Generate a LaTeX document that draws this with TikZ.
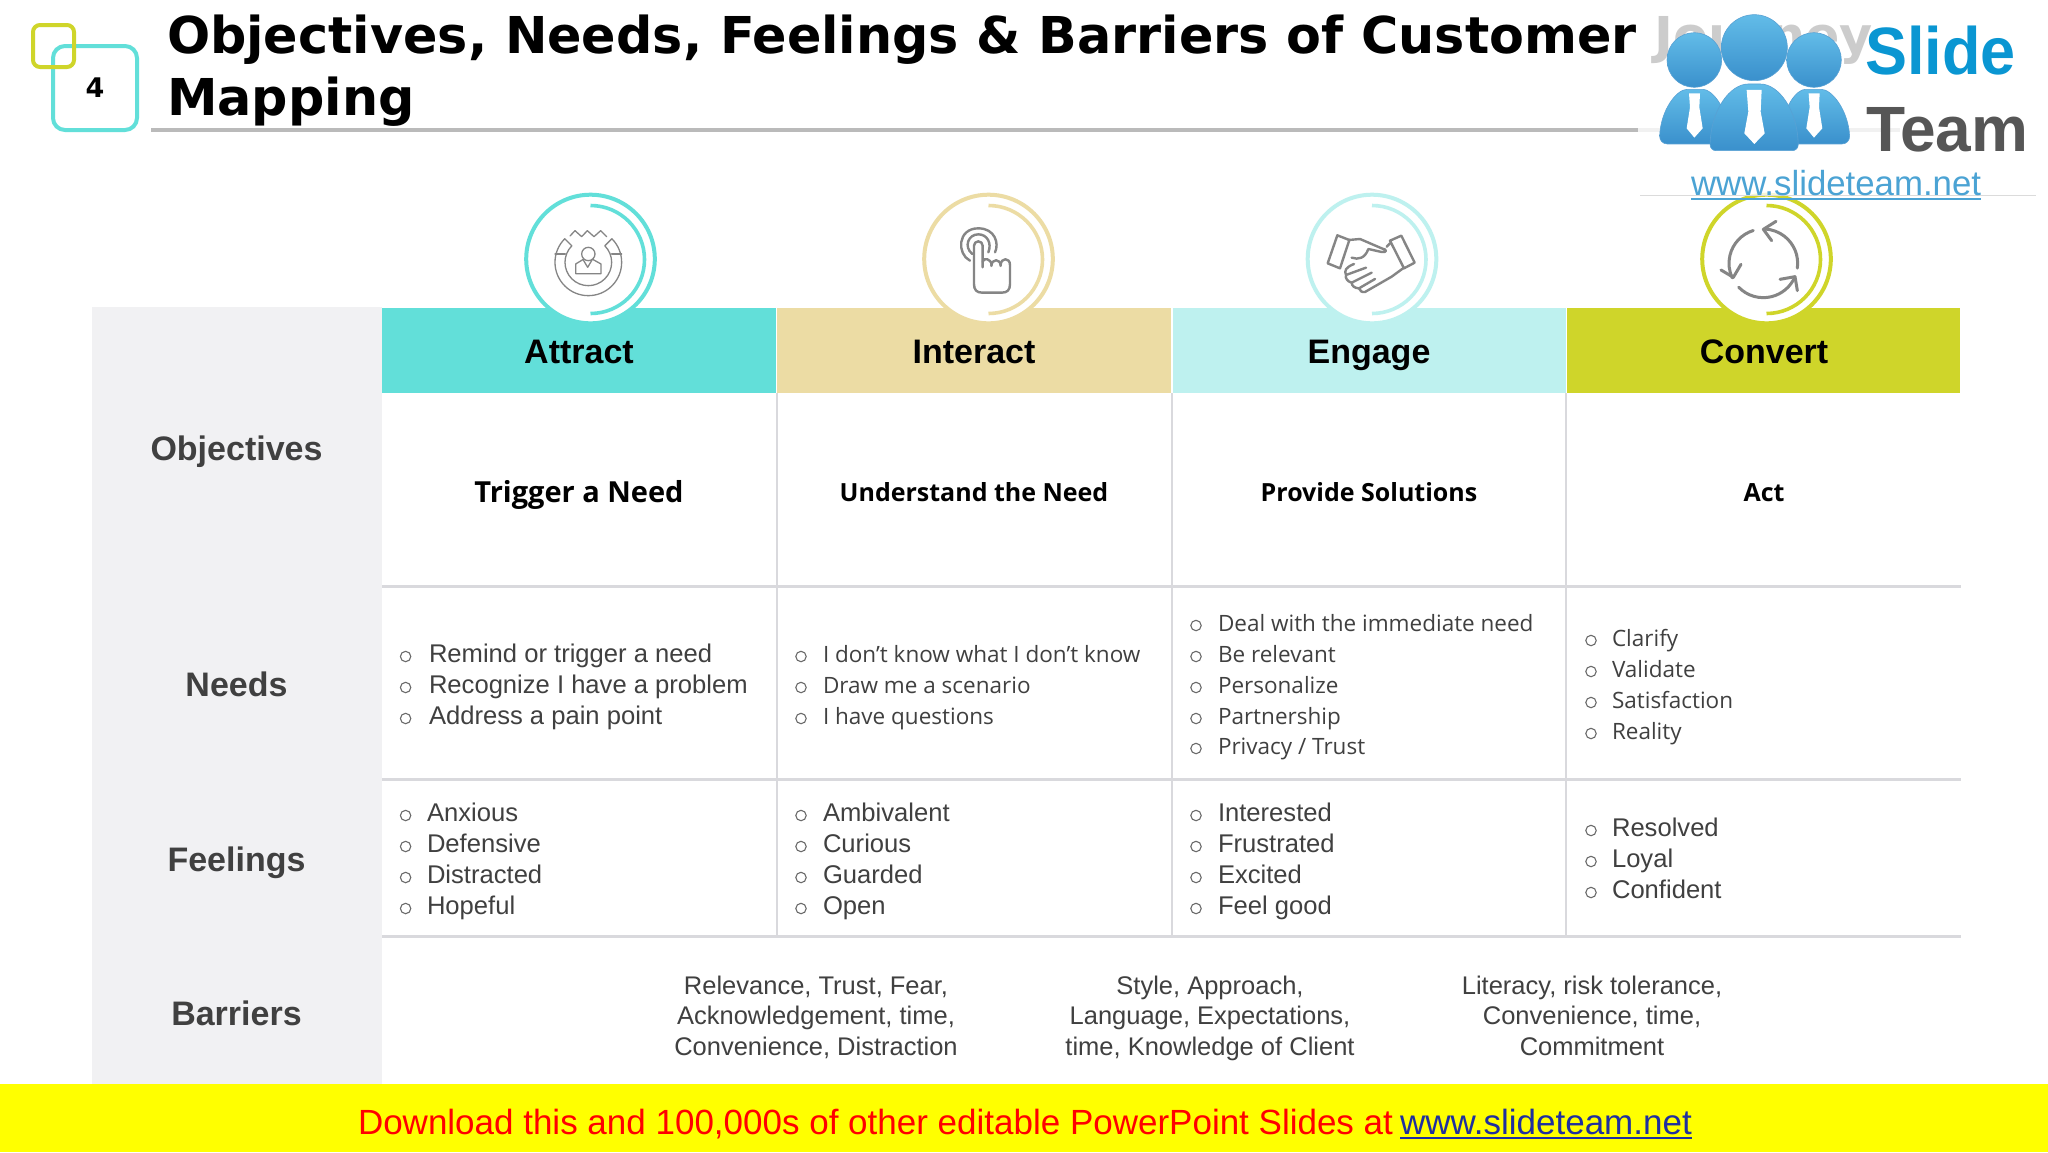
\documentclass[tikz,border=0pt]{standalone}
\usepackage{fontspec}
\setmainfont{Liberation Sans}
\newfontfamily\dejavu{DejaVu Sans}
\newfontfamily\opensans{Open Sans}
\definecolor{cAttract}{HTML}{62DFD9}
\definecolor{cInteract}{HTML}{ECDCA4}
\definecolor{cEngage}{HTML}{BEF1EF}
\definecolor{cConvert}{HTML}{CFD52A}
\definecolor{cGrey}{HTML}{F1F1F3}
\definecolor{cLine}{HTML}{D9D9DD}
\definecolor{cText}{HTML}{404040}
\definecolor{cIcon}{HTML}{858585}
\definecolor{cLink}{HTML}{1F2F9F}
\definecolor{cLogoTop}{HTML}{62BCE8}
\definecolor{cLogoBot}{HTML}{3A90CC}
\definecolor{cBar}{RGB}{255,255,0}
\definecolor{cRed}{RGB}{255,0,0}
\definecolor{cSlide}{HTML}{0A96D2}
\definecolor{cTeam}{HTML}{565656}
\definecolor{cUrl}{HTML}{4BA3D4}
\newcommand{\fs}[1]{\fontsize{#1}{#1}\selectfont}
\tikzset{
  txt/.style={inner sep=0pt,outer sep=0pt,anchor=base west},
  ctr/.style={inner sep=0pt,outer sep=0pt,anchor=base},
  head/.style={ctr,font=\fs{34}\bfseries,text=black},
  rowlab/.style={ctr,font=\fs{34}\bfseries,text=cText},
  subA/.style={ctr,font=\opensans\fs{25}\bfseries,text=black},
  itemA/.style={txt,font=\fs{25.6},text=cText},
  itemB/.style={txt,font=\opensans\fs{22.5},text=cText},
  barr/.style={ctr,font=\fs{25.5},text=cText},
  gridline/.style={draw=cLine,line width=2.4pt},
  ic/.style={draw=cIcon,line width=1.3pt,line join=round,line cap=round},
  icb/.style={draw=cIcon,line width=2.4pt,line join=round,line cap=round},
  tiebox/.style={fill=white,draw=none},
  logoshade/.style={top color=cLogoTop,bottom color=cLogoBot,draw=cLogoBot!85!white,line width=0.6pt},
}
% bullet: name, bullet x, text x, baseline y, style, text
\newcommand{\bul}[6]{%
  \draw[cIcon!80!black,line width=1.1pt] (#2,#4-5.5) circle[radius=5.2];
  \node[#5] (#1) at (#3,#4) {#6};}
% badge: centre x, colour
\newcommand{\badge}[2]{%
  \draw[#2,line width=4pt,fill=white] (#1,259) circle[radius=64.3];
  \draw[#2,line width=3.6pt] (#1,205.5) arc[start angle=-90,end angle=90,radius=54];}
\begin{document}
\begin{tikzpicture}[x=1pt,y=-1pt]
\useasboundingbox (0,0) rectangle (2048,1152);
\fill[white] (0,0) rectangle (2048,1152);
% title
\node[txt,font=\dejavu\fs{50.8}\bfseries] (t1) at (167,53) {Objectives, Needs, Feelings \& Barriers of Customer Journey};
\node[txt,font=\dejavu\fs{50.8}\bfseries] (t2) at (167,115) {Mapping};
\draw[draw=black!27,line width=3.4pt] (151,130) -- (1900,130);
% number badge
\draw[cAttract,line width=4pt,rounded corners=12pt] (53,46) rectangle (137,130);
\draw[cConvert,line width=4pt,rounded corners=7pt] (33,25) rectangle (74,67);
\node[font=\dejavu\fs{27}\bfseries,inner sep=0pt] (num) at (95,88) {4};
% table
\fill[cGrey] (92,307) rectangle (382,1084);
\fill[cAttract] (382,308) rectangle (776,393);
\fill[cInteract] (777,308) rectangle (1171,393);
\fill[cEngage] (1173,308) rectangle (1566,393);
\fill[cConvert] (1567,308) rectangle (1960,393);
\foreach \yy in {586.5,779.5,936.5}{\draw[gridline] (382,\yy) -- (1961,\yy);}
\foreach \xx in {777,1172,1566}{\draw[draw=cLine,line width=2pt] (\xx,393) -- (\xx,936);}
% badges
\badge{590.5}{cAttract}
\badge{988.5}{cInteract}
\badge{1372}{cEngage}
\badge{1766.5}{cConvert}
% attract icon
\begin{scope}[shift={(500,180)},x=0.3333pt,y=-0.3333pt]
 \draw[ic] (265,247)+(225:70) -- ++(225:100) arc[start angle=225,end angle=-45,radius=100] -- ++(135:30) arc[start angle=-45,end angle=225,radius=70];
 \draw[ic] (165,222) -- (196,222) (335,222) -- (365,222);
 \draw[ic] (210,168) -- (225,152) -- (245,170) -- (262,152) -- (282,170) -- (302,152) -- (320,170);
 \draw[ic] (265,222) circle[radius=20];
 \draw[ic] (250,238) -- (227,252) -- (227,281) -- (303,281) -- (303,252) -- (278,238);
 \draw[ic] (250,240) -- (263,262) -- (276,240);
\end{scope}
% interact icon
\begin{scope}[shift={(900,180)},x=0.3333pt,y=-0.3333pt]
 \draw[icb] (210,242) .. controls (170,222) and (172,145) .. (235,145) .. controls (285,145) and (298,190) .. (285,217);
 \draw[icb] (217,222) .. controls (190,200) and (205,163) .. (235,163) .. controls (262,163) and (276,190) .. (265,217);
 \draw[icb] (248,262) -- (248,197) arc[start angle=0,end angle=-180,radius=13] -- (222,312)
   .. controls (222,330) and (230,338) .. (247,338) -- (305,338) .. controls (322,338) and (330,330) .. (330,312) -- (330,255)
   .. controls (330,232) and (303,232) .. (302,255);
 \draw[icb] (302,258) .. controls (302,235) and (275,235) .. (274,258);
 \draw[icb] (275,255) .. controls (273,235) and (250,232) .. (248,245);
\end{scope}
% engage icon
\begin{scope}[shift={(1280,180)},x=0.3333pt,y=-0.3333pt]
 \draw[icb] (172,166) -- (208,180) -- (180,265) -- (143,250) -- cycle;
 \draw[icb] (330,182) -- (364,167) -- (404,248) -- (372,265) -- cycle;
 \draw[icb] (206,180) -- (240,177) -- (305,205) .. controls (322,208) and (322,218) .. (305,216) -- (265,207) .. controls (255,235) and (235,240) .. (215,233);
 \draw[icb] (330,190) -- (320,200);
 \draw[icb] (372,263) -- (335,290) -- (255,336) .. controls (245,338) and (240,332) .. (237,325) -- (285,297);
 \draw[icb] (237,325) .. controls (225,325) and (215,318) .. (215,308) -- (275,278);
 \draw[icb] (215,308) .. controls (203,305) and (195,295) .. (198,285) -- (258,263);
 \draw[icb] (198,285) .. controls (192,272) and (197,262) .. (222,252);
\end{scope}
% convert icon
\begin{scope}[shift={(1680,180)},x=0.3333pt,y=-0.3333pt]
 \draw[icb,line width=3pt] (250,250)+(8:103) arc[start angle=8,end angle=-87,radius=103];
 \draw[icb,line width=3pt] (288,124) -- (250,148) -- (275,182);
 \draw[icb,line width=3pt] (250,250)+(253:103) arc[start angle=253,end angle=155,radius=103];
 \draw[icb,line width=3pt] (123,270) -- (160,292) -- (183,253);
 \draw[icb,line width=3pt] (250,250)+(136:103) arc[start angle=136,end angle=24,radius=103];
 \draw[icb,line width=3pt] (300,298) -- (345,290) -- (352,332);
\end{scope}
% headers
\node[head] (h1) at (579,363) {Attract};
\node[head] (h2) at (974,363) {Interact};
\node[head] (h3) at (1369,363) {Engage};
\node[head] (h4) at (1764,363) {Convert};
% row labels
\node[rowlab] (r1) at (236.5,460) {Objectives};
\node[rowlab] (r2) at (236.5,696) {Needs};
\node[rowlab] (r3) at (236.5,871) {Feelings};
\node[rowlab] (r4) at (236.5,1025) {Barriers};
% objectives
\node[subA,font=\opensans\fs{29}\bfseries] (o1) at (579,502) {Trigger a Need};
\node[subA] (o2) at (974,501) {Understand the Need};
\node[subA] (o3) at (1369,501) {Provide Solutions};
\node[subA] (o4) at (1764,501) {Act};
% needs
\bul{n11}{405.6}{429}{662}{itemA}{Remind or trigger a need}
\bul{n12}{405.6}{429}{693}{itemA}{Recognize I have a problem}
\bul{n13}{405.6}{429}{724}{itemA}{Address a pain point}
\bul{n21}{801}{823}{662}{itemB}{I don’t know what I don’t know}
\bul{n22}{801}{823}{693}{itemB}{Draw me a scenario}
\bul{n23}{801}{823}{724}{itemB}{I have questions}
\bul{n31}{1196}{1218}{631}{itemB}{Deal with the immediate need}
\bul{n32}{1196}{1218}{662}{itemB}{Be relevant}
\bul{n33}{1196}{1218}{693}{itemB}{Personalize}
\bul{n34}{1196}{1218}{724}{itemB}{Partnership}
\bul{n35}{1196}{1218}{754}{itemB}{Privacy / Trust}
\bul{n41}{1591}{1612}{646}{itemB}{Clarify}
\bul{n42}{1591}{1612}{677}{itemB}{Validate}
\bul{n43}{1591}{1612}{708}{itemB}{Satisfaction}
\bul{n44}{1591}{1612}{739}{itemB}{Reality}
% feelings
\bul{f11}{405.6}{427}{821}{itemA}{Anxious}
\bul{f12}{405.6}{427}{852}{itemA}{Defensive}
\bul{f13}{405.6}{427}{883}{itemA}{Distracted}
\bul{f14}{405.6}{427}{914}{itemA}{Hopeful}
\bul{f21}{801}{823}{821}{itemA}{Ambivalent}
\bul{f22}{801}{823}{852}{itemA}{Curious}
\bul{f23}{801}{823}{883}{itemA}{Guarded}
\bul{f24}{801}{823}{914}{itemA}{Open}
\bul{f31}{1196}{1218}{821}{itemA}{Interested}
\bul{f32}{1196}{1218}{852}{itemA}{Frustrated}
\bul{f33}{1196}{1218}{883}{itemA}{Excited}
\bul{f34}{1196}{1218}{914}{itemA}{Feel good}
\bul{f41}{1591}{1612}{836}{itemA}{Resolved}
\bul{f42}{1591}{1612}{867}{itemA}{Loyal}
\bul{f43}{1591}{1612}{898}{itemA}{Confident}
% barriers
\node[barr] (b11) at (816,994) {Relevance, Trust, Fear,};
\node[barr] (b12) at (816,1024.5) {Acknowledgement, time,};
\node[barr] (b13) at (816,1055) {Convenience, Distraction};
\node[barr] (b21) at (1210,994) {Style, Approach,};
\node[barr] (b22) at (1210,1024.5) {Language, Expectations,};
\node[barr] (b23) at (1210,1055) {time, Knowledge of Client};
\node[barr] (b31) at (1592,994) {Literacy, risk tolerance,};
\node[barr] (b32) at (1592,1024.5) {Convenience, time,};
\node[barr] (b33) at (1592,1055) {Commitment};
% yellow bar
\fill[cBar] (0,1084) rectangle (2048,1152);
\node[txt,font=\fs{35},text=cRed] (dl) at (358,1134) {Download this and 100,000s of other editable PowerPoint Slides at};
\node[txt,font=\fs{35},text=cLink] (dlu) at (1400,1134) {www.slideteam.net};
\draw[cLink,line width=2pt] ([yshift=-4pt]dlu.base west) -- ([yshift=-4pt]dlu.base east);
% logo watermark
\fill[white,opacity=0.8] (1638,0) rectangle (2036,195);
\draw[black!14,line width=1pt] (1640,195) -- (2036,195);
\begin{scope}[shift={(1640,0)},x=0.3333pt,y=-0.3333pt]
 \shade[logoshade] (163,180) circle[radius=82];
 \shade[logoshade] (522,180) circle[radius=82];
 \shade[logoshade,rounded corners=8pt] (58,432) .. controls (62,330) and (110,268) .. (165,268) .. controls (215,268) and (262,320) .. (270,432) -- cycle;
 \shade[logoshade,rounded corners=8pt] (420,432) .. controls (428,320) and (470,268) .. (520,268) .. controls (575,268) and (625,330) .. (630,432) -- cycle;
 \fill[tiebox] (147,280) -- (180,280) -- (178,322) -- (188,385) -- (163,413) -- (140,385) -- (150,322) -- cycle;
 \fill[tiebox] (506,280) -- (539,280) -- (537,322) -- (547,385) -- (522,413) -- (499,385) -- (509,322) -- cycle;
 \shade[logoshade,rounded corners=6pt] (210,452) .. controls (212,330) and (270,252) .. (343,252) .. controls (416,252) and (473,330) .. (475,452) -- cycle;
 \shade[logoshade] (343,143) circle[radius=99];
 \fill[tiebox] (320,270) -- (365,270) -- (362,335) -- (374,400) -- (343,432) -- (313,400) -- (325,335) -- cycle;
\end{scope}
\node[txt,font=\fs{67}\bfseries,text=cSlide,xscale=0.94] (logoS) at (1865,74) {Slide};
\node[txt,font=\fs{64}\bfseries,text=cTeam] (logoT) at (1866,151) {Team};
\node[txt,font=\fs{34.8},text=cUrl] (logoU) at (1691,195) {www.slideteam.net};
\draw[cUrl,line width=2.5pt] ([yshift=-4pt]logoU.base west) -- ([yshift=-4pt]logoU.base east);
\end{tikzpicture}
\end{document}
